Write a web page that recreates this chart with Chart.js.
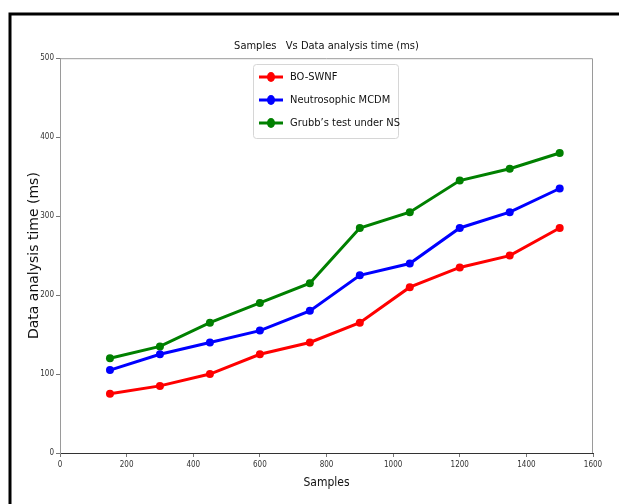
<!DOCTYPE html>
<html>
<head>
<meta charset="utf-8">
<script src="https://cdn.jsdelivr.net/npm/chart.js@4.4.1/dist/chart.umd.min.js"></script>
<style>
	html, body { margin: 0; padding: 0; background: #fff; }
	#wrap { position: relative; width: 619px; height: 504px; }
</style>
</head>
<body>
<div id="wrap"><canvas id="timeChart" width="619" height="504"></canvas></div>
<script>
const samples = [150, 300, 450, 600, 750, 900, 1050, 1200, 1350, 1500];
const boSwnf = [75, 85, 100, 125, 140, 165, 210, 235, 250, 285];
const neutroMcdm = [105, 125, 140, 155, 180, 225, 240, 285, 305, 335];
const grubbNs = [120, 135, 165, 190, 215, 285, 305, 345, 360, 380];
const seriesNames = ["BO-SWNF", "Neutrosophic MCDM", "Grubb\u2019s test under NS"];
const seriesColors = ["#ff0000", "#0000ff", "#008000"];

const narrow = "'DejaVu Sans Condensed', 'DejaVu Sans', sans-serif";

function series(values, i) {
	return {
		label: seriesNames[i],
		data: samples.map((s, k) => ({ x: s, y: values[k] })),
		borderColor: seriesColors[i],
		backgroundColor: seriesColors[i],
		borderWidth: 3,
		pointRadius: 4,
		pointBorderWidth: 0,
		pointHoverRadius: 4,
		tension: 0
	};
}

// outer frame + top/right spines
const framePlugin = {
	id: "frame",
	beforeDraw(chart) {
		const ctx = chart.ctx;
		ctx.save();
		ctx.fillStyle = "#fff";
		ctx.fillRect(0, 0, chart.width, chart.height);
		ctx.strokeStyle = "#000";
		ctx.lineWidth = 3;
		ctx.beginPath();
		ctx.moveTo(10, 504);
		ctx.lineTo(10, 14);
		ctx.lineTo(619, 14);
		ctx.stroke();
		ctx.restore();
	},
	afterDatasetsDraw(chart) {
		const a = chart.chartArea;
		const ctx = chart.ctx;
		ctx.save();
		ctx.strokeStyle = "#9a9a9a";
		ctx.lineWidth = 1;
		ctx.beginPath();
		ctx.moveTo(a.left + 0.5, a.top + 0.5);
		ctx.lineTo(a.right - 0.5, a.top + 0.5);
		ctx.lineTo(a.right - 0.5, a.bottom);
		ctx.stroke();
		ctx.restore();
	}
};

// legend box drawn inside the plot area like matplotlib
const boxLegend = {
	id: "boxLegend",
	afterDraw(chart) {
		const ctx = chart.ctx;
		const x0 = 253, y0 = 64, w = 145, h = 74;
		ctx.save();
		ctx.fillStyle = "rgba(255,255,255,0.85)";
		ctx.strokeStyle = "#d6d6d6";
		ctx.lineWidth = 1;
		ctx.beginPath();
		ctx.roundRect(x0 + 0.5, y0 + 0.5, w, h, 3);
		ctx.fill();
		ctx.stroke();
		ctx.font = "11px " + narrow;
		ctx.textBaseline = "middle";
		chart.data.datasets.forEach(function (ds, i) {
			const cy = y0 + 13 + i * 23;
			ctx.strokeStyle = ds.borderColor;
			ctx.fillStyle = ds.borderColor;
			ctx.lineWidth = 3;
			ctx.beginPath();
			ctx.moveTo(x0 + 6, cy);
			ctx.lineTo(x0 + 30, cy);
			ctx.stroke();
			ctx.beginPath();
			ctx.ellipse(x0 + 18, cy, 4, 5, 0, 0, Math.PI * 2);
			ctx.fill();
			ctx.fillStyle = "#111";
			ctx.fillText(ds.label, x0 + 37, cy);
		});
		ctx.restore();
	}
};

new Chart(document.getElementById("timeChart"), {
	type: "line",
	data: {
		datasets: [series(boSwnf, 0), series(neutroMcdm, 1), series(grubbNs, 2)]
	},
	plugins: [framePlugin, boxLegend],
	options: {
		responsive: false,
		animation: false,
		layout: { padding: { left: 10, right: 26, top: 0, bottom: 1 } },
		plugins: {
			legend: { display: false },
			tooltip: { enabled: false },
			title: {
				display: true,
				fullSize: false,
				text: "Samples   Vs Data analysis time (ms)",
				color: "#111",
				font: { family: narrow, size: 11, weight: "normal" },
				padding: { top: 40, bottom: 5 }
			}
		},
		scales: {
			x: {
				type: "linear",
				min: 0,
				max: 1600,
				afterFit: function (scale) { scale.height = 50; },
				ticks: {
					stepSize: 200,
					color: "#333",
					font: { family: narrow, size: 8 },
					padding: 3,
					callback: function (value) { return String(value); }
				},
				grid: { drawOnChartArea: false, tickLength: 4, color: "#777" },
				border: { color: "#333", width: 1 },
				title: {
					display: true,
					text: "Samples",
					color: "#111",
					font: { family: narrow, size: 12 },
					padding: { top: 4, bottom: 13 }
				}
			},
			y: {
				min: 0,
				max: 500,
				afterFit: function (scale) { scale.width = 50; },
				ticks: {
					stepSize: 100,
					color: "#333",
					font: { family: narrow, size: 8 },
					padding: 2
				},
				grid: { drawOnChartArea: false, tickLength: 4, color: "#777" },
				border: { color: "#9a9a9a", width: 1 },
				title: {
					display: true,
					text: "Data analysis time (ms)",
					color: "#111",
					font: { family: "'DejaVu Sans', sans-serif", size: 14 },
					padding: { top: 16, bottom: 4 }
				}
			}
		}
	}
});
</script>
</body>
</html>
